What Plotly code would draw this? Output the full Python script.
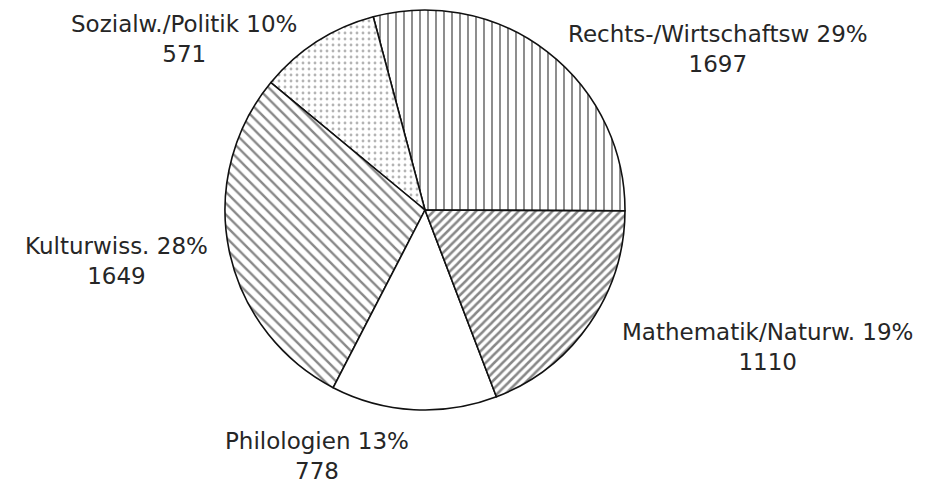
import plotly.graph_objects as go

# Studienfächer: Anzahl je Fachgruppe (gegen den Uhrzeigersinn ab 3 Uhr)
labels = ["Rechts-/Wirtschaftsw", "Sozialw./Politik", "Kulturwiss.", "Philologien", "Mathematik/Naturw."]
values = [1697, 571, 1649, 778, 1110]

# Schraffur je Segment
shapes = ["|", ".", "\\", "", "/"]
sizes = [8, 6, 8, 8, 6]
solidities = [0.24, 0.18, 0.3, 0.2, 0.42]
fgcolors = ["#111111", "#6a6a6a", "#111111", "#111111", "#111111"]

# Beschriftungspositionen (Pixel im Bild)
label_x = [718, 184, 116, 317, 767]
label_y = [49, 39, 261, 456, 347]

W, H = 928, 485
total = sum(values)

fig = go.Figure(
    go.Pie(
        labels=labels,
        values=values,
        sort=False,
        direction="counterclockwise",
        rotation=-15,
        textinfo="none",
        hoverinfo="label+value+percent",
        showlegend=False,
        domain=dict(x=[225 / W, 625 / W], y=[1 - 410 / H, 1 - 10 / H]),
        marker=dict(
            colors=["white"] * len(values),
            line=dict(color="#111111", width=1.6),
            pattern=dict(
                shape=shapes,
                size=sizes,
                solidity=solidities,
                fgcolor=fgcolors,
                bgcolor="white",
                fillmode="overlay",
            ),
        ),
    )
)

annotations = []
for lab, val, lx, ly in zip(labels, values, label_x, label_y):
    pct = round(val / total * 100)
    annotations.append(
        dict(
            text=f"{lab} {pct}%<br>{val}",
            x=lx / W,
            y=1 - ly / H,
            xref="paper",
            yref="paper",
            xanchor="center",
            yanchor="middle",
            showarrow=False,
            align="center",
            font=dict(family="DejaVu Sans", size=23, color="#262626"),
        )
    )

fig.update_layout(
    width=W,
    height=H,
    margin=dict(l=0, r=0, t=0, b=0),
    paper_bgcolor="white",
    plot_bgcolor="white",
    annotations=annotations,
)

fig.write_html("out.html")
